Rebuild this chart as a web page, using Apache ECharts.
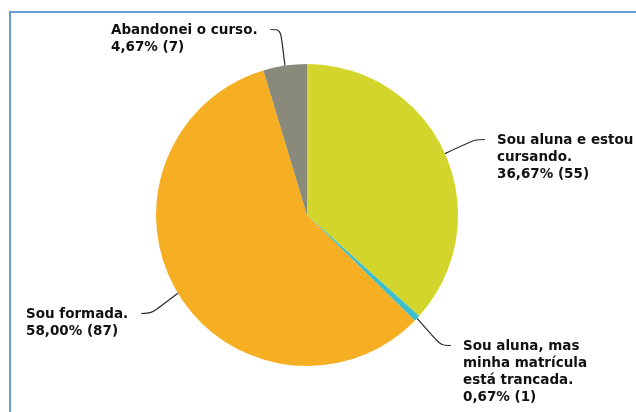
<!DOCTYPE html>
<html><head><meta charset="utf-8">
<script src="https://cdn.jsdelivr.net/npm/echarts@6/dist/echarts.min.js"></script>
<style>html,body{margin:0;padding:0;background:#fff}#c{width:636px;height:412px}</style>
</head><body><div id="c"></div>
<script>
var categories = ['Sou aluna e estou\ncursando.', 'Sou aluna, mas\nminha matrícula\nestá trancada.', 'Sou formada.', 'Abandonei o curso.'];
var counts = [55, 1, 87, 7];
var colors = ['#D2D52B', '#3CBFCB', '#F6AF22', '#898A7A'];
var labelPos = [[497, 132], [463, 338], [26, 306], [111, 22]];

var total = counts.reduce(function(a, b){ return a + b; }, 0);
var chart = echarts.init(document.getElementById('c'), null, {renderer: 'canvas'});
chart.setOption({
  animation: false,
  graphic: [{type: 'rect', shape: {x: 10, y: 12, width: 700, height: 500}, style: {fill: 'none', stroke: '#6A9BD1', lineWidth: 2}, silent: true}],
  series: [{
    type: 'pie',
    center: [307, 215],
    radius: 151,
    startAngle: 90,
    clockwise: true,
    avoidLabelOverlap: false,
    itemStyle: {borderWidth: 0},
    data: categories.map(function(n, i){ return {name: n, value: counts[i], itemStyle: {color: colors[i]}}; }),
    label: {
      show: true,
      position: 'outside',
      fontFamily: 'DejaVu Sans',
      fontWeight: 'bold',
      fontSize: 13.5,
      lineHeight: 17,
      color: '#111',
      align: 'left',
      formatter: function(p){
        var pct = (p.value / total * 100).toFixed(2).replace('.', ',');
        return p.name + '\n' + pct + '% (' + p.value + ')';
      }
    },
    labelLine: {show: true, length: 15, length2: 20, smooth: 0.35, lineStyle: {color: '#2a2a2a', width: 1.2}},
    labelLayout: function(p){
      var pos = labelPos[p.dataIndex];
      var start = p.labelLinePoints[0];
      var w = p.labelRect.width;
      var lineY = pos[1] + 7.5;
      var endX, midX;
      if (pos[0] > start[0]) { endX = pos[0] - 12; midX = endX - 10; }
      else { endX = pos[0] + w + 13; midX = endX + 10; }
      return {
        x: pos[0], y: pos[1], align: 'left', verticalAlign: 'top', moveOverlap: false,
        labelLinePoints: [[start[0], start[1]], [midX, lineY], [endX, lineY]]
      };
    }
  }]
});
</script></body></html>
